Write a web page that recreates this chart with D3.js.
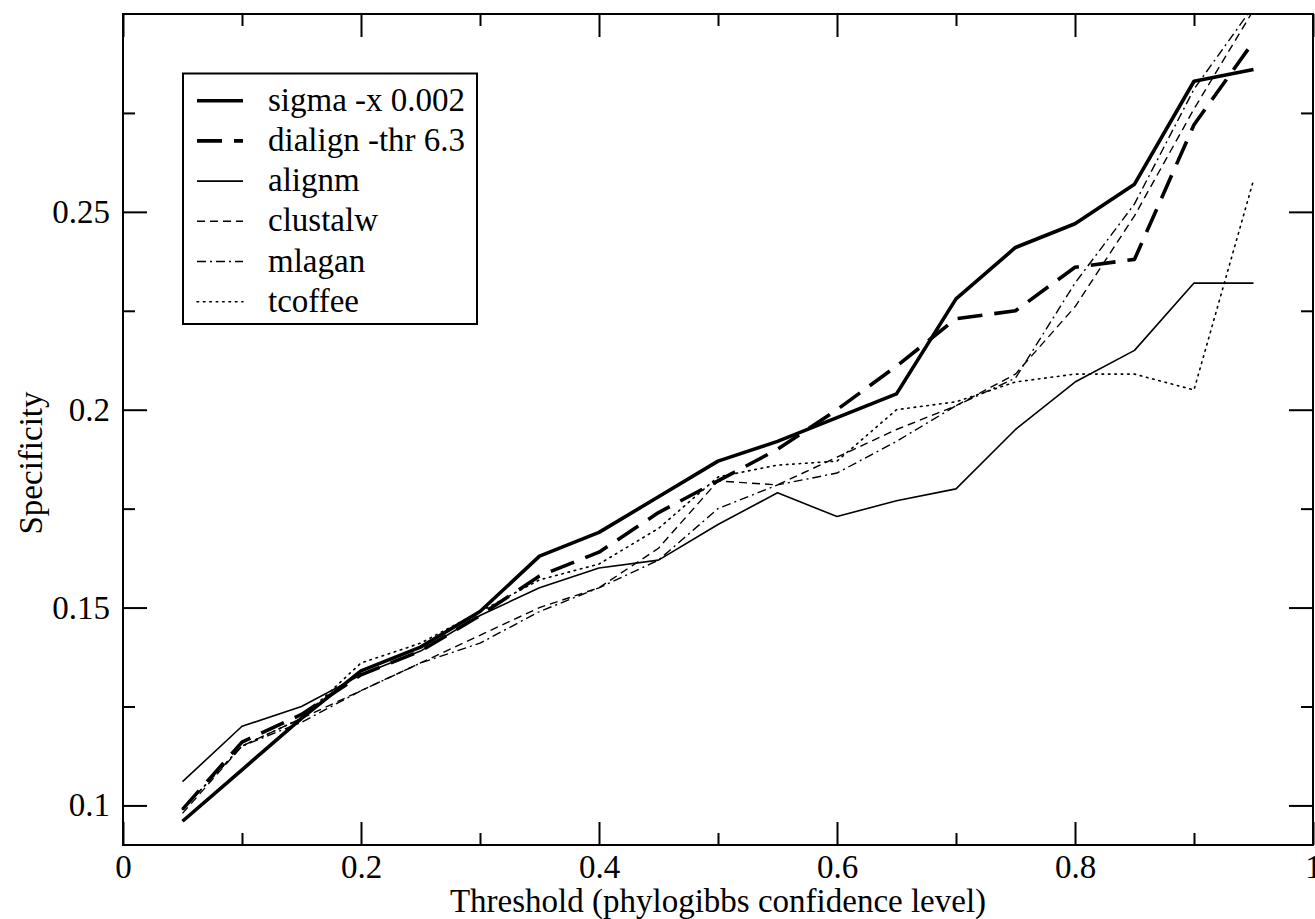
<!DOCTYPE html>
<html><head><meta charset="utf-8">
<script src="https://cdn.jsdelivr.net/npm/d3@7"></script>
<style>body{margin:0;background:#fff}svg{display:block}svg text{font-family:"Liberation Serif",Tinos,"Times New Roman",Times,"Nimbus Roman","DejaVu Serif",serif !important;fill:#000}</style>
</head><body>
<svg id="c" width="1315" height="919"></svg>
<script>
const thresholds = [0.05,0.1,0.15,0.2,0.25,0.3,0.35,0.4,0.45,0.5,0.55,0.6,0.65,0.7,0.75,0.8,0.85,0.9,0.95];
const sigma    = [0.096,0.109,0.122,0.134,0.140,0.149,0.163,0.169,0.178,0.187,0.192,0.198,0.204,0.228,0.241,0.247,0.257,0.283,0.286];
const dialign  = [0.099,0.116,0.123,0.133,0.139,0.148,0.158,0.164,0.174,0.182,0.190,0.200,0.211,0.223,0.225,0.236,0.238,0.272,0.293];
const alignm   = [0.106,0.120,0.125,0.133,0.139,0.148,0.155,0.160,0.162,0.171,0.179,0.173,0.177,0.180,0.195,0.207,0.215,0.232,0.232];
const clustalw = [0.098,0.115,0.122,0.129,0.136,0.143,0.150,0.155,0.165,0.182,0.181,0.188,0.195,0.201,0.209,0.226,0.249,0.276,0.301];
const mlagan   = [0.099,0.115,0.121,0.129,0.136,0.141,0.149,0.155,0.162,0.175,0.181,0.184,0.192,0.201,0.208,0.232,0.252,0.281,0.302];
const tcoffee  = [0.099,0.115,0.122,0.136,0.141,0.149,0.157,0.161,0.170,0.183,0.186,0.187,0.200,0.202,0.207,0.209,0.209,0.205,0.258];
const seriesNames = ["sigma -x 0.002","dialign -thr 6.3","alignm","clustalw","mlagan","tcoffee"];
const xTickLabels = ["0","0.2","0.4","0.6","0.8","1"];
const yTickLabels = ["0.1","0.15","0.2","0.25"];

const styles = [
  {w:3.6, dash:null},
  {w:3.6, dash:"25,12"},
  {w:1.6, dash:null},
  {w:1.4, dash:"8,5"},
  {w:1.4, dash:"9,4,2,4"},
  {w:1.6, dash:"1.6,4.8"}
];
const data = [sigma,dialign,alignm,clustalw,mlagan,tcoffee];

const L=123,R=1313,T=14,B=845;
const x=d3.scaleLinear().domain([0,1]).range([L,R]);
const y=d3.scaleLinear().domain([0.09,0.3]).range([B,T]);
const svg=d3.select("#c");
svg.append("defs").append("clipPath").attr("id","clip").append("rect")
  .attr("x",L).attr("y",T).attr("width",R-L).attr("height",B-T);

const line=d3.line().x((d,i)=>x(thresholds[i])).y(d=>y(d));
const g=svg.append("g").attr("clip-path","url(#clip)");
data.forEach((s,k)=>{
  g.append("path").datum(s).attr("d",line).attr("fill","none").attr("stroke","#000")
   .attr("stroke-width",styles[k].w).attr("stroke-dasharray",styles[k].dash)
   .attr("stroke-linejoin","round").attr("stroke-linecap",k===5?"round":"butt");
});

// frame
svg.append("rect").attr("x",L).attr("y",T).attr("width",R-L).attr("height",B-T)
  .attr("fill","none").attr("stroke","#000").attr("stroke-width",2);

const fs=33;
function styleAxis(sel){
  sel.select(".domain").remove();
  sel.attr("font-family",null).attr("font-size",null);
  sel.selectAll("line").attr("stroke","#000").attr("stroke-width",2);
  sel.selectAll("text").attr("font-size",fs);
}
const xMajor=xTickLabels.map(Number);
const xMinor=[0.1,0.3,0.5,0.7,0.9];
styleAxis(svg.append("g").attr("transform",`translate(0,${B})`)
  .call(d3.axisBottom(x).tickValues(xMajor).tickSize(-23).tickFormat((d,i)=>xTickLabels[i]).tickPadding(10)));
styleAxis(svg.append("g").attr("transform",`translate(0,${B})`)
  .call(d3.axisBottom(x).tickValues(xMinor).tickSize(-12).tickFormat("")));
styleAxis(svg.append("g").attr("transform",`translate(0,${T})`)
  .call(d3.axisTop(x).tickValues(xMajor).tickSize(-23).tickFormat("")));
styleAxis(svg.append("g").attr("transform",`translate(0,${T})`)
  .call(d3.axisTop(x).tickValues(xMinor).tickSize(-12).tickFormat("")));

const yMajor=yTickLabels.map(Number);
const yMinor=[0.125,0.175,0.225,0.275];
styleAxis(svg.append("g").attr("transform",`translate(${L},0)`)
  .call(d3.axisLeft(y).tickValues(yMajor).tickSize(-24).tickFormat((d,i)=>yTickLabels[i]).tickPadding(13)));
styleAxis(svg.append("g").attr("transform",`translate(${L},0)`)
  .call(d3.axisLeft(y).tickValues(yMinor).tickSize(-12).tickFormat("")));
styleAxis(svg.append("g").attr("transform",`translate(${R},0)`)
  .call(d3.axisRight(y).tickValues(yMajor).tickSize(-24).tickFormat("")));
styleAxis(svg.append("g").attr("transform",`translate(${R},0)`)
  .call(d3.axisRight(y).tickValues(yMinor).tickSize(-12).tickFormat("")));

// axis titles
svg.append("text").attr("x",(L+R)/2).attr("y",912).attr("text-anchor","middle").attr("font-size",fs)
  .text("Threshold (phylogibbs confidence level)");
svg.append("text").attr("transform","translate(42,463) rotate(-90)").attr("text-anchor","middle").attr("font-size",fs)
  .text("Specificity");

// legend
const lg=svg.append("g");
lg.append("rect").attr("x",183).attr("y",73.5).attr("width",294).attr("height",250.5)
  .attr("fill","#fff").attr("stroke","#000").attr("stroke-width",2);
seriesNames.forEach((n,k)=>{
  const yy=100.7+k*40.2;
  lg.append("line").attr("x1",197).attr("x2",243).attr("y1",yy).attr("y2",yy)
    .attr("stroke","#000").attr("stroke-width",styles[k].w).attr("stroke-dasharray",styles[k].dash)
    .attr("stroke-linecap",k===5?"round":"butt");
  lg.append("text").attr("x",268).attr("y",yy+10).attr("font-size",fs).text(n);
});
</script>
</body></html>
